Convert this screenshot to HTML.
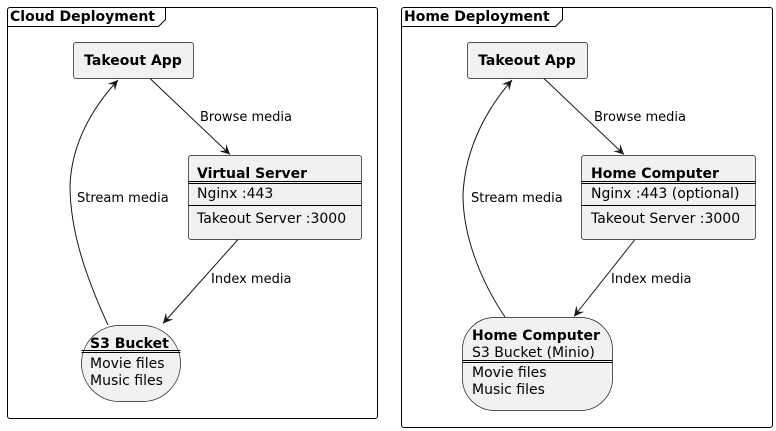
<!DOCTYPE html>
<html><head><meta charset="utf-8"><style>
html,body{margin:0;padding:0;background:#fff;}
svg{display:block;font-family:"DejaVu Sans","Liberation Sans",sans-serif;}
.b{font-weight:bold;font-size:14px;}
.t{font-size:14px;}
.l{font-size:13px;}
</style></head><body>
<svg width="776" height="431" viewBox="0 0 776 431" xmlns="http://www.w3.org/2000/svg">
<defs>
<marker id="a" markerWidth="12" markerHeight="12" refX="10" refY="5" orient="auto" markerUnits="userSpaceOnUse">
<path d="M0,0 L10,5 L0,10 L4,5 Z" fill="#181818"/>
</marker>
</defs>
<rect x="7.5" y="7.5" width="370" height="411" rx="2.5" fill="none" stroke="#000" stroke-width="1"/>
<path d="M7.5,26.5 L158.5,26.5 L165.5,19.5 L165.5,7.5" fill="none" stroke="#000"/>
<text x="10" y="21" class="b">Cloud Deployment</text>

<rect x="73.5" y="42.5" width="120" height="36" rx="2.5" fill="#f1f1f1" stroke="#181818" stroke-width="0.7"/>
<text x="133" y="65" class="b" text-anchor="middle">Takeout App</text>

<rect x="188.5" y="155.5" width="173" height="84" rx="2.5" fill="#f1f1f1" stroke="#181818" stroke-width="0.7"/>
<text x="197" y="178" class="b">Virtual Server</text>
<line x1="188.5" y1="181.5" x2="361.5" y2="181.5" stroke="#000"/>
<line x1="188.5" y1="183.5" x2="361.5" y2="183.5" stroke="#000"/>
<text x="197" y="198" class="t">Nginx :443</text>
<line x1="188.5" y1="205.5" x2="361.5" y2="205.5" stroke="#000"/>
<text x="197" y="223" class="t">Takeout Server :3000</text>

<rect x="81.5" y="325.5" width="99" height="76" rx="38" fill="#f1f1f1" stroke="#181818" stroke-width="0.7"/>
<text x="90" y="348" class="b">S3 Bucket</text>
<line x1="81.5" y1="350.5" x2="180.5" y2="350.5" stroke="#000"/>
<line x1="81.5" y1="352.5" x2="180.5" y2="352.5" stroke="#000"/>
<text x="90" y="368" class="t">Movie files</text>
<text x="90" y="385" class="t">Music files</text>

<line x1="150" y1="78.5" x2="230" y2="154.5" stroke="#181818" marker-end="url(#a)"/>
<text x="200" y="121" class="l">Browse media</text>
<line x1="238" y1="239.5" x2="163" y2="323.5" stroke="#181818" marker-end="url(#a)"/>
<text x="211" y="283" class="l">Index media</text>
<path d="M108,325 C85,275 70,230 70,185 C72,140 95,105 118,80" fill="none" stroke="#181818" marker-end="url(#a)"/>
<text x="77" y="202" class="l">Stream media</text>

<rect x="401.5" y="7.5" width="371" height="420" rx="2.5" fill="none" stroke="#000" stroke-width="1"/>
<path d="M401.5,26.5 L555.5,26.5 L562.5,19.5 L562.5,7.5" fill="none" stroke="#000"/>
<text x="404" y="21" class="b">Home Deployment</text>

<rect x="467.5" y="42.5" width="120" height="36" rx="2.5" fill="#f1f1f1" stroke="#181818" stroke-width="0.7"/>
<text x="527" y="65" class="b" text-anchor="middle">Takeout App</text>

<rect x="581.5" y="155.5" width="174" height="84" rx="2.5" fill="#f1f1f1" stroke="#181818" stroke-width="0.7"/>
<text x="591" y="178" class="b">Home Computer</text>
<line x1="581.5" y1="181.5" x2="755.5" y2="181.5" stroke="#000"/>
<line x1="581.5" y1="183.5" x2="755.5" y2="183.5" stroke="#000"/>
<text x="591" y="198" class="t">Nginx :443 (optional)</text>
<line x1="581.5" y1="205.5" x2="755.5" y2="205.5" stroke="#000"/>
<text x="591" y="223" class="t">Takeout Server :3000</text>

<rect x="462.5" y="317.5" width="150" height="93" rx="32" fill="#f1f1f1" stroke="#181818" stroke-width="0.7"/>
<text x="472" y="340" class="b">Home Computer</text>
<text x="472" y="357" class="t">S3 Bucket (Minio)</text>
<line x1="462.5" y1="360.5" x2="612.5" y2="360.5" stroke="#000"/>
<line x1="462.5" y1="362.5" x2="612.5" y2="362.5" stroke="#000"/>
<text x="472" y="377" class="t">Movie files</text>
<text x="472" y="394" class="t">Music files</text>

<line x1="544" y1="78.5" x2="624" y2="154.5" stroke="#181818" marker-end="url(#a)"/>
<text x="594" y="121" class="l">Browse media</text>
<line x1="635" y1="239.5" x2="574" y2="316.5" stroke="#181818" marker-end="url(#a)"/>
<text x="611" y="283" class="l">Index media</text>
<path d="M505,317 C480,280 463,235 463,195 C465,145 490,105 512,80" fill="none" stroke="#181818" marker-end="url(#a)"/>
<text x="471" y="202" class="l">Stream media</text>
</svg>
</body></html>
